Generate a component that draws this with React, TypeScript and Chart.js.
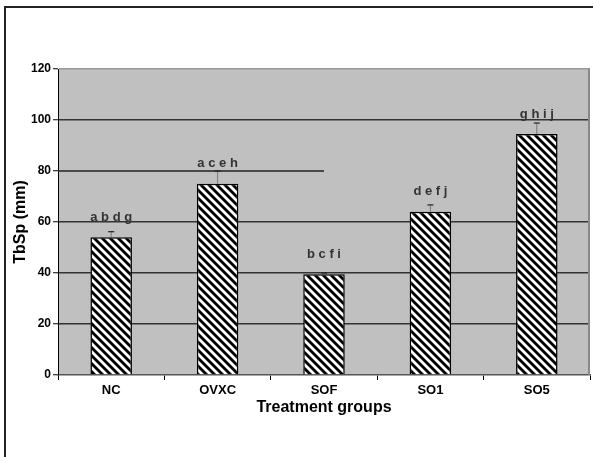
import React, { useEffect, useRef } from 'react';
import { Chart, registerables } from 'chart.js';

Chart.register(...registerables);

const categories = ['NC', 'OVXC', 'SOF', 'SO1', 'SO5'];
const meanValues = [54, 75, 39.5, 64, 94.5];
const errorValues = [2.2, 5, 0.5, 2.7, 4.3];
const letterLabels = ['a b d g', 'a c e h', 'b c f i', 'd e f j', 'g h i j'];
const yMin = 0;
const yMax = 120;
const yStep = 20;
const bracketValue = 80;
const bracketEndIndex = 2;

const FONT = '"Liberation Sans", Arial, Helvetica, sans-serif';

function makeStripePattern(): CanvasPattern | string {
  const c = document.createElement('canvas');
  c.width = 8;
  c.height = 8;
  const g = c.getContext('2d');
  if (!g) return '#888';
  g.fillStyle = '#ffffff';
  g.fillRect(0, 0, 8, 8);
  g.strokeStyle = '#000000';
  g.lineWidth = 2.8;
  for (let k = -1; k <= 1; k++) {
    g.beginPath();
    g.moveTo(k * 8 - 2, -2);
    g.lineTo(k * 8 + 10, 10);
    g.stroke();
  }
  const p = g.createPattern(c, 'repeat');
  return p || '#888';
}

const overlayPlugin = {
  id: 'overlay',
  beforeDraw(chart: any) {
    const { ctx, chartArea, width, height } = chart;
    ctx.save();
    ctx.fillStyle = '#ffffff';
    ctx.fillRect(0, 0, width, height);
    ctx.strokeStyle = '#222';
    ctx.lineWidth = 2;
    ctx.beginPath();
    ctx.moveTo(5, height);
    ctx.lineTo(5, 7);
    ctx.lineTo(width, 7);
    ctx.stroke();
    ctx.fillStyle = '#c0c0c0';
    ctx.fillRect(chartArea.left, chartArea.top, chartArea.right - chartArea.left, chartArea.bottom - chartArea.top);
    ctx.restore();
  },
  beforeDatasetsDraw(chart: any) {
    const { ctx, chartArea, scales } = chart;
    ctx.save();
    ctx.strokeStyle = '#888';
    ctx.lineWidth = 2;
    ctx.beginPath();
    ctx.moveTo(chartArea.right - 1, chartArea.top);
    ctx.lineTo(chartArea.right - 1, chartArea.bottom);
    ctx.stroke();
    const y = scales.y.getPixelForValue(bracketValue);
    ctx.strokeStyle = '#222';
    ctx.lineWidth = 1.5;
    ctx.beginPath();
    ctx.moveTo(chartArea.left, y);
    ctx.lineTo(scales.x.getPixelForValue(bracketEndIndex), y);
    ctx.stroke();
    ctx.restore();
  },
  afterDatasetsDraw(chart: any) {
    const { ctx, scales } = chart;
    const meta = chart.getDatasetMeta(0);
    ctx.save();
    meta.data.forEach((bar: any, i: number) => {
      const x = bar.x;
      const yTop = scales.y.getPixelForValue(meanValues[i]);
      const yErr = scales.y.getPixelForValue(meanValues[i] + errorValues[i]);
      ctx.strokeStyle = '#666';
      ctx.lineWidth = 0.8;
      ctx.beginPath();
      ctx.moveTo(x, yTop);
      ctx.lineTo(x, yErr);
      ctx.stroke();
      ctx.strokeStyle = '#222';
      ctx.lineWidth = 1.2;
      ctx.beginPath();
      ctx.moveTo(x - 3, yErr);
      ctx.lineTo(x + 3, yErr);
      ctx.stroke();
      ctx.fillStyle = '#333';
      ctx.font = 'bold 13px ' + FONT;
      ctx.textAlign = 'center';
      ctx.textBaseline = 'middle';
      ctx.fillText(letterLabels[i], x, yTop - 20);
    });
    ctx.restore();
  },
};

export default function App() {
  const ref = useRef<HTMLCanvasElement>(null);

  useEffect(() => {
    if (!ref.current) return;
    const pattern = makeStripePattern();
    const chart = new Chart(ref.current, {
      type: 'bar',
      data: {
        labels: categories,
        datasets: [
          {
            data: meanValues,
            backgroundColor: pattern as any,
            borderColor: '#000',
            borderWidth: 1.5,
            borderSkipped: 'bottom',
            categoryPercentage: 1,
            barPercentage: 0.39,
          },
        ],
      },
      options: {
        responsive: false,
        animation: false,
        layout: { padding: { top: 69, right: 3, bottom: 40, left: 11 } },
        plugins: {
          legend: { display: false },
          tooltip: { enabled: false },
        },
        scales: {
          x: {
            offset: true,
            grid: {
              offset: true,
              drawOnChartArea: false,
              drawTicks: true,
              tickLength: 5,
              tickColor: '#000',
            },
            border: { display: true, color: '#555', width: 1.5 },
            ticks: {
              color: '#000',
              padding: 3,
              font: { family: FONT, size: 13, weight: 'bold' },
            },
            title: {
              display: true,
              text: 'Treatment groups',
              color: '#000',
              padding: 0,
              font: { family: FONT, size: 16, weight: 'bold' },
            },
            afterFit(scale: any) {
              scale.height = 42;
            },
          },
          y: {
            min: yMin,
            max: yMax,
            grid: {
              color: (c: any) => {
                const v = c.tick && c.tick.value;
                if (v === bracketValue || v === yMin) return 'rgba(0,0,0,0)';
                if (v === yMax) return '#999';
                return '#333';
              },
              lineWidth: 1.5,
              tickLength: 5,
              tickColor: '#000',
              tickWidth: 1,
            },
            border: { display: true, color: '#000', width: 1 },
            ticks: {
              stepSize: yStep,
              color: '#000',
              padding: 2,
              font: { family: FONT, size: 12, weight: 'bold' },
            },
            title: {
              display: true,
              text: 'TbSp (mm)',
              color: '#000',
              padding: 0,
              font: { family: FONT, size: 16, weight: 'bold' },
            },
            afterFit(scale: any) {
              scale.width = 47;
            },
          },
        },
      },
      plugins: [overlayPlugin],
    });
    return () => chart.destroy();
  }, []);

  return (
    <div style={{ position: 'fixed', left: 0, top: 0, width: 593, height: 457, background: '#fff' }}>
      <canvas ref={ref} width={593} height={457} style={{ display: 'block' }} />
    </div>
  );
}
